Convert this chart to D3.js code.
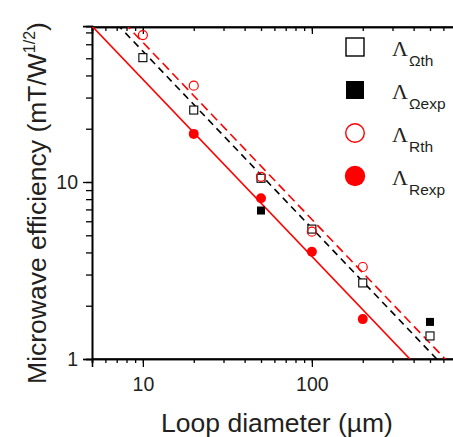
<!DOCTYPE html>
<html><head><meta charset="utf-8">
<script src="https://cdn.jsdelivr.net/npm/d3@7"></script>
<style>body{margin:0;background:#fff}svg{display:block}</style>
</head><body>
<svg id="c" width="453" height="437"></svg>
<script>
// Data (loop diameter in µm, efficiency in mT/W^1/2)
const diamOmegaTh = [10, 20, 50, 100, 200, 500];
const valOmegaTh  = [50.4, 25.5, 10.5, 5.42, 2.69, 1.35];
const diamOmegaExp = [50, 500];
const valOmegaExp  = [6.9, 1.62];
const diamRTh = [10, 20, 50, 100, 200];
const valRTh  = [67.6, 35, 10.7, 5.24, 3.31];
const diamRExp = [20, 50, 100, 200];
const valRExp  = [18.7, 8.1, 4.04, 1.68];
// fitted 1/d lines: value = k / d
const fitNames = ["Rexp", "Omega", "Rth"];
const fitK = [380, 548, 615];
const xTickLabels = [10, 100];
const yTickLabels = [1, 10];
const legendLabels = ["Ωth", "Ωexp", "Rth", "Rexp"];

(function () {
const svg = d3.select("#c");
const pL = 92, pT = 27, pB = 359, pR = 453;
const x = d3.scaleLog().domain([5, 700]).range([pL, pL + 169 * Math.log10(140)]);
const y = d3.scaleLog().domain([1, 76]).range([pB, pB - 177 * Math.log10(76)]);
const ink = "#231f20", red = "#ff0000";
const sans = "Liberation Sans, Arial, Helvetica, sans-serif";

const defs = svg.append("defs");
defs.append("clipPath").attr("id", "clip").append("rect")
  .attr("x", pL).attr("y", pT).attr("width", pR - pL + 10).attr("height", pB - pT);

const xMinor = [], yMinor = [];
for (const dec of [1, 10, 100]) for (let m = 1; m <= 9; m++) { const v = m * dec; if (v >= 5 && v <= 700) xMinor.push(v); }
for (const dec of [1, 10]) for (let m = 1; m <= 9; m++) { const v = m * dec; if (v >= 1 && v <= 76) yMinor.push(v); }

const g = svg.append("g");
g.append("g").attr("transform", `translate(0,${pB})`).call(d3.axisBottom(x).tickValues(xMinor).tickSize(4).tickFormat(""));
g.append("g").attr("transform", `translate(0,${pB})`)
  .call(d3.axisBottom(x).tickValues(xTickLabels).tickSize(8).tickPadding(10).tickFormat(d3.format("d")))
  .call(s => s.selectAll("text").attr("font-size", 19.5).attr("fill", ink).attr("font-family", sans));
g.append("g").attr("transform", `translate(0,${pT})`).call(d3.axisTop(x).tickValues(xMinor).tickSize(-4).tickFormat(""));
g.append("g").attr("transform", `translate(0,${pT})`).call(d3.axisTop(x).tickValues(xTickLabels).tickSize(-7).tickFormat(""));
g.append("g").attr("transform", `translate(${pL},0)`).call(d3.axisLeft(y).tickValues(yMinor).tickSize(6).tickFormat(""));
g.append("g").attr("transform", `translate(${pL},0)`)
  .call(d3.axisLeft(y).tickValues(yTickLabels).tickSize(9).tickPadding(5).tickFormat(d3.format("d")))
  .call(s => s.selectAll("text").attr("font-size", 19.5).attr("fill", ink).attr("font-family", sans));
g.selectAll(".domain").attr("stroke", "#000").attr("stroke-width", 1.6);
g.selectAll(".tick line").attr("stroke", "#000").attr("stroke-width", 1.3);
g.append("line").attr("x1", pL).attr("x2", pR).attr("y1", pB).attr("y2", pB).attr("stroke", "#000").attr("stroke-width", 1.6);
g.append("line").attr("x1", pL).attr("x2", pR).attr("y1", pT).attr("y2", pT).attr("stroke", "#000").attr("stroke-width", 1.6);

const plot = svg.append("g").attr("clip-path", "url(#clip)");
const lineStyles = {
  Rexp: {stroke: red, dash: null},
  Omega: {stroke: "#000", dash: "7,5"},
  Rth: {stroke: red, dash: "9,5"}
};
fitNames.forEach((n, i) => {
  const k = fitK[i];
  const d0 = 4, d1 = 800;
  plot.append("line")
    .attr("x1", x(d0)).attr("y1", y(k / d0))
    .attr("x2", x(d1)).attr("y2", y(k / d1))
    .attr("stroke", lineStyles[n].stroke).attr("stroke-width", 1.6)
    .attr("stroke-dasharray", lineStyles[n].dash);
});

const sq = 8;
plot.selectAll(".oth").data(diamOmegaTh.map((d, i) => [d, valOmegaTh[i]])).join("rect")
  .attr("x", d => x(d[0]) - sq / 2).attr("y", d => y(d[1]) - sq / 2).attr("width", sq).attr("height", sq)
  .attr("fill", "#fff").attr("stroke", "#000").attr("stroke-width", 1.1);
plot.selectAll(".oexp").data(diamOmegaExp.map((d, i) => [d, valOmegaExp[i]])).join("rect")
  .attr("x", d => x(d[0]) - sq / 2).attr("y", d => y(d[1]) - sq / 2).attr("width", sq).attr("height", sq)
  .attr("fill", "#000");
plot.selectAll(".rth").data(diamRTh.map((d, i) => [d, valRTh[i]])).join("circle")
  .attr("cx", d => x(d[0])).attr("cy", d => y(d[1])).attr("r", 4.5)
  .attr("fill", "none").attr("stroke", red).attr("stroke-width", 1.2);
plot.selectAll(".rexp").data(diamRExp.map((d, i) => [d, valRExp[i]])).join("circle")
  .attr("cx", d => x(d[0])).attr("cy", d => y(d[1])).attr("r", 5)
  .attr("fill", red);

const leg = svg.append("g");
const legY = [47, 90, 133, 176];
const lx = 355;
leg.append("rect").attr("x", lx - 9).attr("y", legY[0] - 9).attr("width", 18).attr("height", 18)
  .attr("fill", "#fff").attr("stroke", "#000").attr("stroke-width", 1.4);
leg.append("rect").attr("x", lx - 9).attr("y", legY[1] - 9).attr("width", 18).attr("height", 18).attr("fill", "#000");
leg.append("circle").attr("cx", lx).attr("cy", legY[2]).attr("r", 9.3).attr("fill", "#fff").attr("stroke", red).attr("stroke-width", 1.4);
leg.append("circle").attr("cx", lx).attr("cy", legY[3]).attr("r", 10.2).attr("fill", red);
legendLabels.forEach((lab, i) => {
  const t = leg.append("text").attr("x", 392).attr("y", legY[i] + 9).attr("fill", ink);
  t.append("tspan").attr("font-family", "Liberation Serif, Times New Roman, serif").attr("font-size", 22).text("Λ");
  t.append("tspan").attr("font-family", sans).attr("font-size", 15.5)
    .attr("dx", 1).attr("dy", 10).text(lab);
});

svg.append("text").attr("x", 277).attr("y", 432).attr("text-anchor", "middle")
  .attr("font-family", sans).attr("font-size", 26.5).attr("fill", ink)
  .text("Loop diameter (µm)");
const yt = svg.append("text").attr("transform", "translate(46,203) rotate(-90)").attr("text-anchor", "middle")
  .attr("font-family", sans).attr("font-size", 26.5).attr("fill", ink);
yt.append("tspan").text("Microwave efficiency (mT/W");
yt.append("tspan").attr("font-size", 16).attr("dy", -11).text("1/2");
yt.append("tspan").attr("dy", 11).text(")");
})();
</script>
</body></html>
